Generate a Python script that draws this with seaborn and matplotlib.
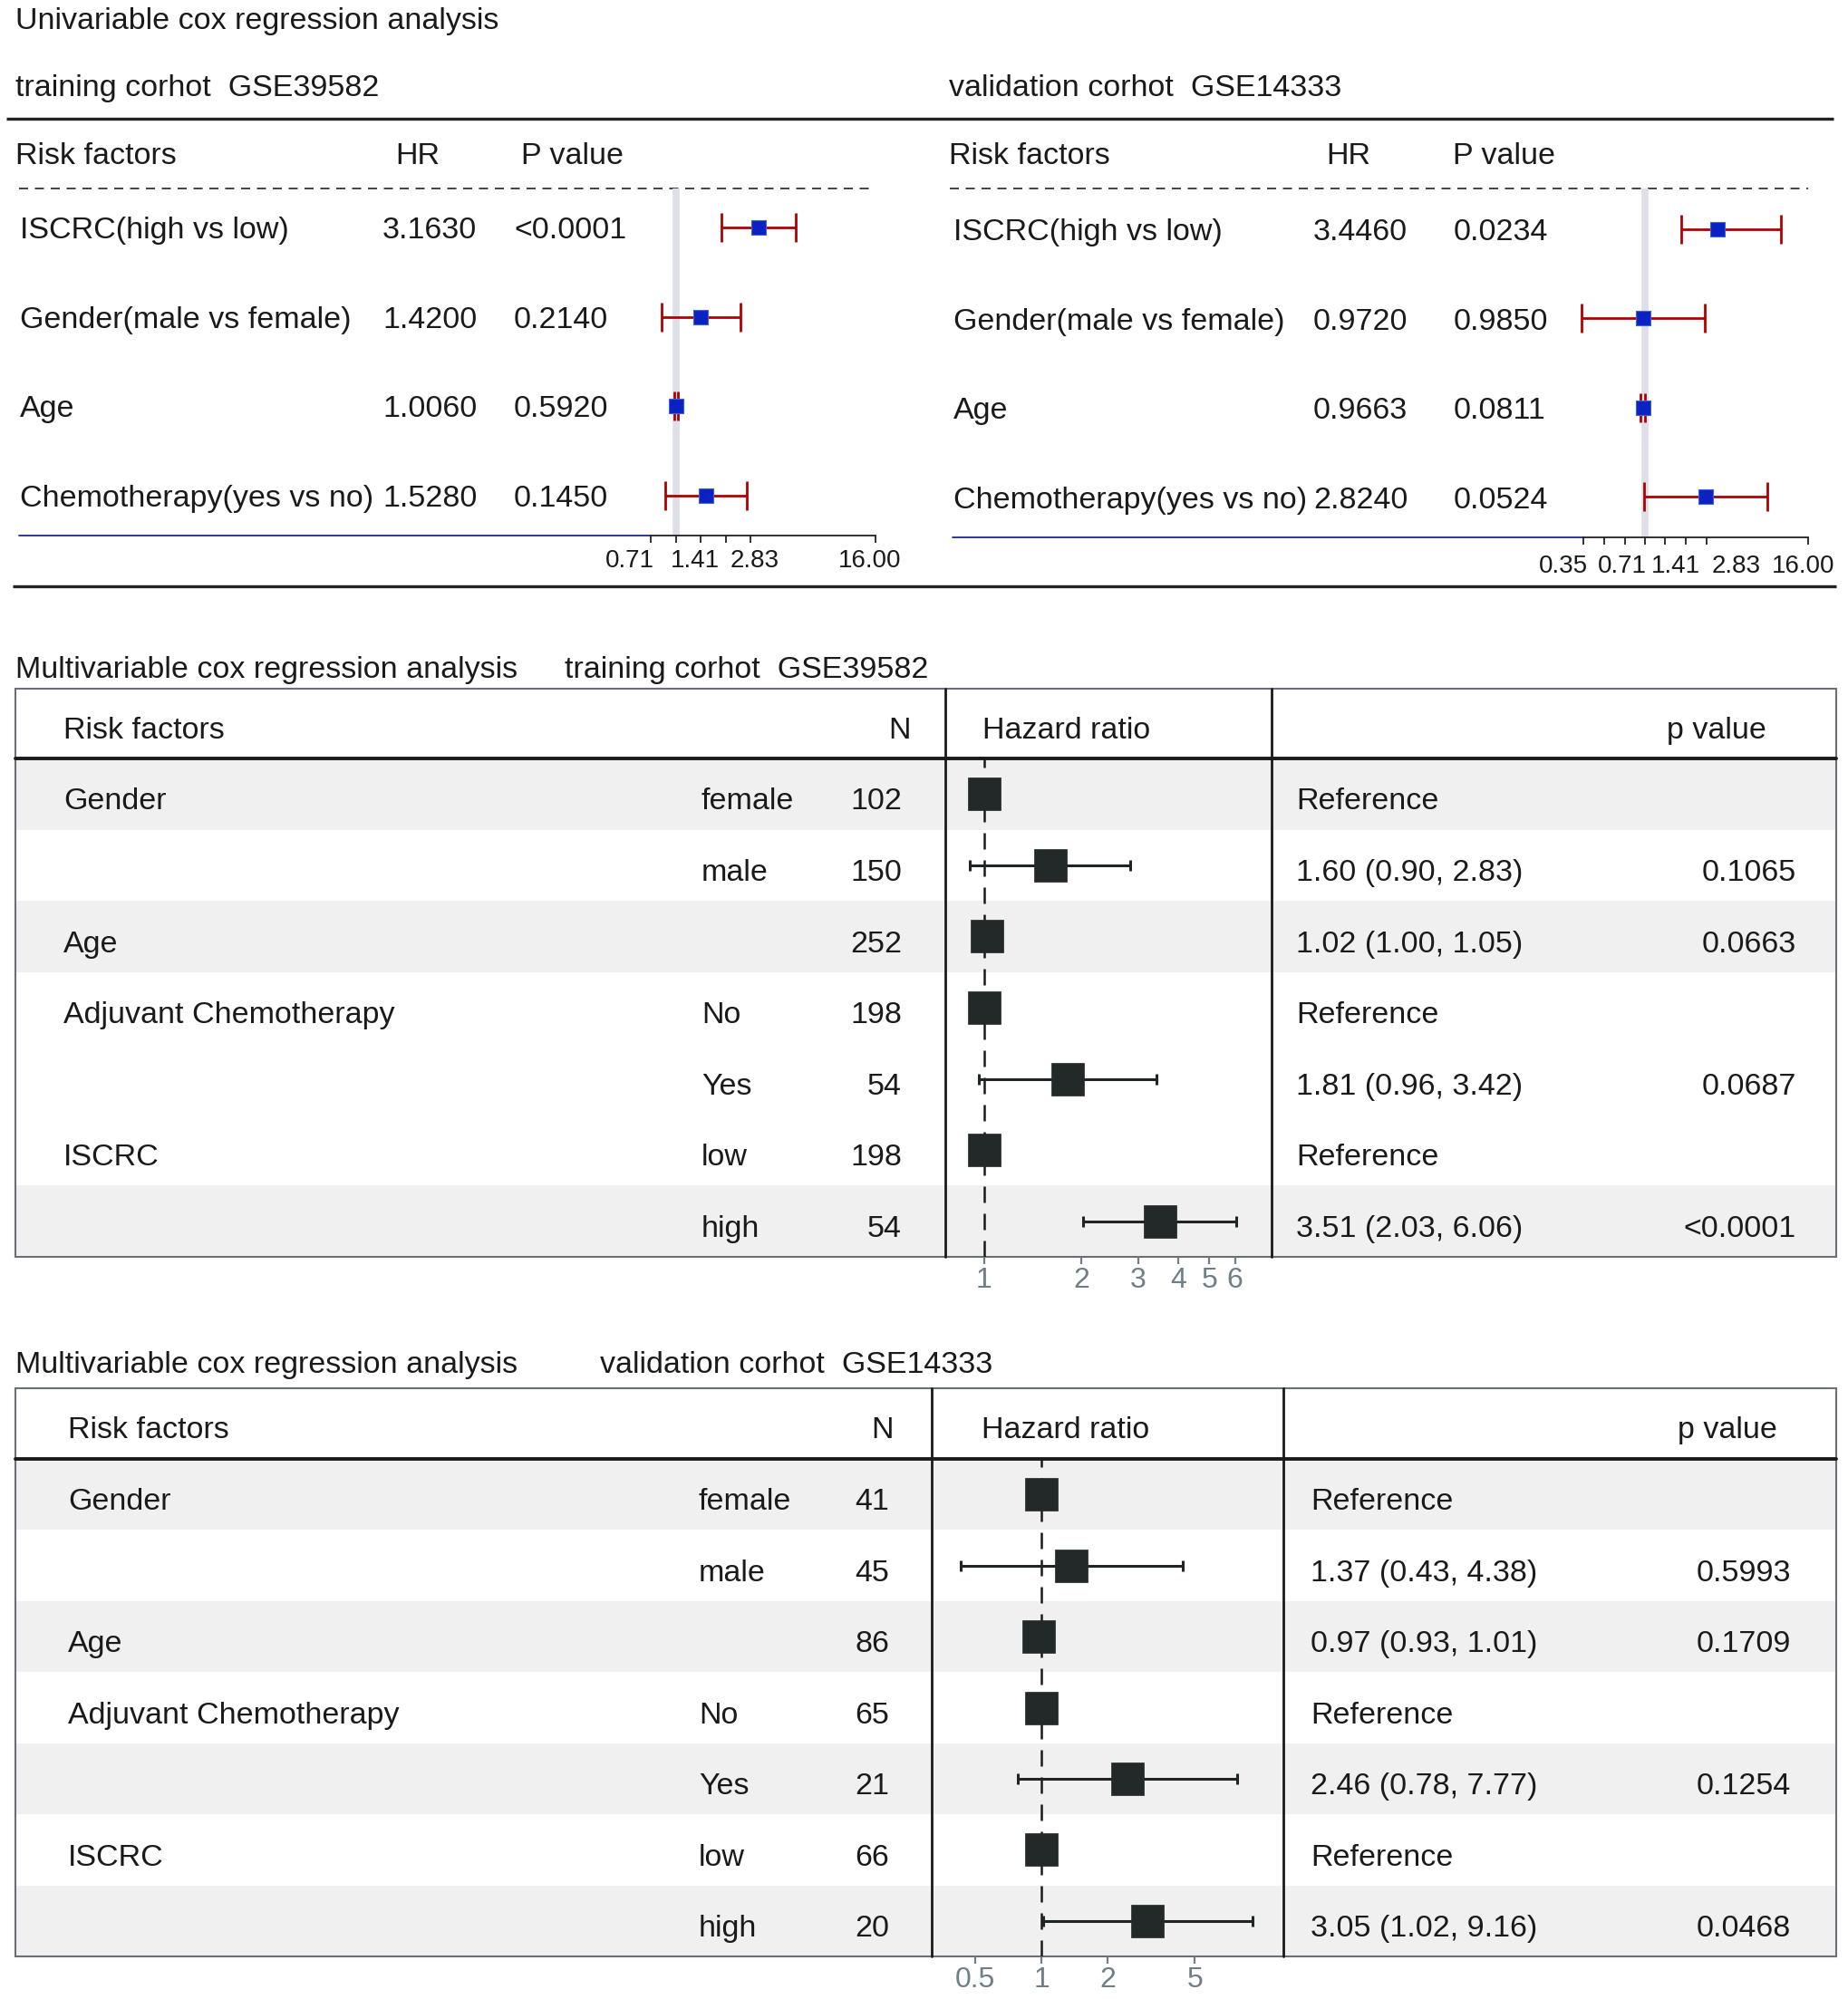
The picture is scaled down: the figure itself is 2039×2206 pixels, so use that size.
import numpy as np
import matplotlib
matplotlib.use("Agg")
import matplotlib.pyplot as plt
import seaborn as sns
from matplotlib.patches import Rectangle

sns.set_style("white")
plt.rcParams['font.family'] = ['Liberation Sans', 'DejaVu Sans']

# ---------------- data ----------------
uni_factors = ["ISCRC(high vs low)", "Gender(male vs female)", "Age", "Chemotherapy(yes vs no)"]

train_hr = [3.163, 1.42, 1.006, 1.528]
train_hr_txt = ["3.1630", "1.4200", "1.0060", "1.5280"]
train_p_txt = ["<0.0001", "0.2140", "0.5920", "0.1450"]
train_lo = [1.88, 0.82, 0.98, 0.87]
train_hi = [5.30, 2.46, 1.03, 2.68]
train_ticks = [0.71, 1, 1.41, 2, 2.83, 16]
train_ticklabels = ["0.71", "", "1.41", "", "2.83", "16.00"]

val_hr = [3.446, 0.972, 0.9663, 2.824]
val_hr_txt = ["3.4460", "0.9720", "0.9663", "2.8240"]
val_p_txt = ["0.0234", "0.9850", "0.0811", "0.0524"]
val_lo = [1.85, 0.34, 0.92, 0.99]
val_hi = [10.1, 2.78, 1.00, 8.0]
val_ticks = [0.35, 0.5, 0.71, 1, 1.41, 2, 2.83, 16]
val_ticklabels = ["0.35", "", "0.71", "", "1.41", "", "2.83", "16.00"]

mv_vars = ["Gender", "", "Age", "Adjuvant Chemotherapy", "", "ISCRC", ""]
mv_levels = ["female", "male", "", "No", "Yes", "low", "high"]

mt_n = [102, 150, 252, 198, 54, 198, 54]
mt_hr = [1, 1.60, 1.02, 1, 1.81, 1, 3.51]
mt_lo = [np.nan, 0.90, 1.00, np.nan, 0.96, np.nan, 2.03]
mt_hi = [np.nan, 2.83, 1.05, np.nan, 3.42, np.nan, 6.06]
mt_p = ["", "0.1065", "0.0663", "", "0.0687", "", "<0.0001"]
mt_ticks = [1, 2, 3, 4, 5, 6]
mt_shade = [1, 0, 1, 0, 0, 0, 1]

mv_n = [41, 45, 86, 65, 21, 66, 20]
mv_hr = [1, 1.37, 0.97, 1, 2.46, 1, 3.05]
mv_lo = [np.nan, 0.43, 0.93, np.nan, 0.78, np.nan, 1.02]
mv_hi = [np.nan, 4.38, 1.01, np.nan, 7.77, np.nan, 9.16]
mv_p = ["", "0.5993", "0.1709", "", "0.1254", "", "0.0468"]
mv_ticks = [0.5, 1, 2, 5]
mv_shade = [1, 0, 1, 0, 1, 0, 1]

# ---------------- figure ----------------
W, H = 2040, 2206
fig = plt.figure(figsize=(W / 100, H / 100), dpi=100)
bg = fig.add_axes([0, 0, 1, 1], zorder=0)
bg.set_xlim(0, W)
bg.set_ylim(H, 0)
bg.axis('off')

FS = 24.5
TXT = '#1a1a1a'


def px_axes(x0, y0, x1, y1):
    ax = fig.add_axes([x0 / W, 1 - y1 / H, (x1 - x0) / W, (y1 - y0) / H], zorder=2)
    ax.set_facecolor('none')
    return ax


def t(x, y, s, fs=FS, **kw):
    """Place text so that its capital-letter centre sits at pixel y."""
    kw.setdefault('color', TXT)
    cap = 0.716 * fs * 100 / 72
    bg.text(x, y + cap / 2, s, fontsize=fs, va='baseline', **kw)


# ---------------- univariable section ----------------
t(17, 20, "Univariable cox regression analysis")
t(17, 94, "training corhot  GSE39582")
t(1047, 94, "validation corhot  GSE14333")
bg.plot([7, 2023], [131, 131], color='#222222', lw=2.4, solid_capstyle='butt')
bg.plot([14, 2026], [647, 647], color='#222222', lw=2.4, solid_capstyle='butt')

row0, rstep = 251, 98.5
dash_y = 208


def uni_panel(xl, x_hr, x_p, hdr_hr, hdr_p, dash_x0, ax_x0, ax_x1, vmin, vmax, axis_y, lab_y,
              hr, lo, hi, hr_txt, p_txt, ticks, ticklabels, lab_dx, blue_x0, dy=0):
    t(xl - 5, 169, "Risk factors")
    t(hdr_hr, 169, "HR")
    t(hdr_p, 169, "P value")
    bg.plot([dash_x0, ax_x1], [dash_y, dash_y], color='#222222', lw=1.2,
            linestyle=(0, (6, 4.5)))
    for i, name in enumerate(uni_factors):
        y = row0 + rstep * i + dy
        t(xl, y, name)
        t(x_hr, y, hr_txt[i])
        t(x_p, y, p_txt[i])
    bg.plot([blue_x0, ax_x0], [axis_y, axis_y], color='#1c2a8a', lw=1.3)

    ax = px_axes(ax_x0, dash_y, ax_x1, axis_y)
    ax.set_xscale('log', base=2)
    ax.set_xlim(vmin, vmax)
    ax.set_ylim((axis_y - row0 - dy) / rstep, (dash_y - row0 - dy) / rstep)
    ax.axvline(1, color='#dedfe8', lw=5.5, zorder=1)
    ys = np.arange(len(hr))
    hr_a, lo_a, hi_a = np.array(hr), np.array(lo), np.array(hi)
    eb = ax.errorbar(hr_a, ys, xerr=[hr_a - lo_a, hi_a - hr_a], fmt='none',
                     ecolor='#b00000', elinewidth=2.0, capsize=11.5, capthick=2.0, zorder=2)
    for art in eb.get_children():
        art.set_clip_on(False)
    sns.scatterplot(x=hr_a, y=ys, marker='s', s=135, color='#0a22c2',
                    edgecolor='#4060e0', linewidth=0.8, ax=ax, legend=False, zorder=3,
                    clip_on=False)
    for sp in ['top', 'left', 'right']:
        ax.spines[sp].set_visible(False)
    ax.spines['bottom'].set_color('#222222')
    ax.spines['bottom'].set_linewidth(1.3)
    ax.set_yticks([])
    ax.set_xticks(ticks)
    ax.set_xticklabels([])
    ax.minorticks_off()
    ax.tick_params(axis='x', direction='out', length=6, width=1.3, color='#222222',
                   bottom=True)
    ax.set_xlabel("")
    ax.set_ylabel("")
    # tick labels spread apart (as in the forest plot) to avoid overlapping
    for v, lab, dx in zip(ticks, ticklabels, lab_dx):
        if lab:
            xp = ax.transData.transform((v, 0))[0]
            t(xp + dx, lab_y, lab, fs=20, ha='center')
    return ax


uni_panel(22, 422, 567, 436, 575, 21, 718, 966, 2 ** -0.5, 16, 591, 616,
          train_hr, train_lo, train_hi, train_hr_txt, train_p_txt,
          train_ticks, train_ticklabels, [-23, 0, -6, 0, 4, -6], 21)
uni_panel(1052, 1449, 1604, 1463, 1603, 1048, 1747, 1995, 2 ** -1.5, 16, 593, 622,
          val_hr, val_lo, val_hi, val_hr_txt, val_p_txt,
          val_ticks, val_ticklabels, [-22, 0, -3, 0, 12, 0, 33, -5], 1051, dy=2)


# ---------------- multivariable tables ----------------
def multi_table(title_y, cohort_x, cohort, top, hdr_bot, bot, vx1, vx2,
                name_x, lvl_x, n_right, nhdr_right, hr_hdr_x, phdr_right,
                est_x, p_right, vmin, vmax, n, hr, lo, hi, pv, ticks, shade):
    left, right = 17, 2026
    t(17, title_y, "Multivariable cox regression analysis")
    t(cohort_x, title_y, cohort)
    rh = (bot - hdr_bot) / len(hr)
    for i, s in enumerate(shade):
        if s:
            bg.add_patch(Rectangle((left, hdr_bot + rh * i), right - left, rh,
                                   facecolor='#f0f0f0', edgecolor='none', zorder=0))
    bg.add_patch(Rectangle((left, top), right - left, bot - top, facecolor='none',
                           edgecolor='#6a7075', lw=1.5, zorder=1))
    bg.plot([left, right], [hdr_bot, hdr_bot], color='#1a1a1a', lw=2.8, zorder=2)
    for vx in (vx1, vx2):
        bg.plot([vx, vx], [top, bot], color='#1a1a1a', lw=2.0, zorder=2)
    hy = (top + hdr_bot) / 2 + 4
    t(name_x, hy, "Risk factors")
    t(nhdr_right, hy, "N", ha='right')
    t(hr_hdr_x, hy, "Hazard ratio")
    t(phdr_right, hy, "p value", ha='right')
    for i in range(len(hr)):
        y = hdr_bot + rh * (i + 0.5) + 5
        if mv_vars[i]:
            t(name_x, y, mv_vars[i])
        if mv_levels[i]:
            t(lvl_x, y, mv_levels[i])
        t(n_right, y, str(n[i]), ha='right')
        if np.isnan(lo[i]):
            est = "Reference"
        else:
            est = f"{hr[i]:.2f} ({lo[i]:.2f}, {hi[i]:.2f})"
        t(est_x, y, est)
        if pv[i]:
            t(p_right, y, pv[i], ha='right')

    ax = px_axes(vx1, hdr_bot, vx2, bot)
    ax.set_xscale('log')
    ax.set_xlim(vmin, vmax)
    ax.set_ylim(len(hr), 0)
    ax.axvline(1, color='#1a1a1a', lw=1.8, linestyle=(0, (7.2, 4.8)), zorder=1)
    hr_a, lo_a, hi_a = np.array(hr, float), np.array(lo, float), np.array(hi, float)
    ys = np.arange(len(hr)) + 0.5
    m = ~np.isnan(lo_a)
    ax.errorbar(hr_a[m], ys[m], xerr=[hr_a[m] - lo_a[m], hi_a[m] - hr_a[m]], fmt='none',
                ecolor='#1f2424', elinewidth=2.2, capsize=4, capthick=2.2, zorder=2)
    sns.scatterplot(x=hr_a, y=ys, marker='s', s=690, color='#232828',
                    edgecolor='#232828', linewidth=0.5, ax=ax, legend=False, zorder=3)
    for sp in ax.spines.values():
        sp.set_visible(False)
    ax.set_yticks([])
    ax.set_xticks(ticks)
    ax.set_xticklabels([f"{v:g}" for v in ticks])
    ax.minorticks_off()
    ax.tick_params(axis='x', direction='out', length=6, width=1.6, color='#6f7f86',
                   labelsize=23, labelcolor='#6f7f86', pad=2, bottom=True)
    ax.set_xlabel("")
    ax.set_ylabel("")


multi_table(736, 623, "training corhot  GSE39582", 760, 837, 1387, 1043, 1403,
            70, 774, 995, 1005, 1084, 1949, 1430, 1982,
            2 ** -0.4019, 2 ** 2.963, mt_n, mt_hr, mt_lo, mt_hi, mt_p, mt_ticks, mt_shade)
multi_table(1503, 662, "validation corhot  GSE14333", 1532, 1610, 2159, 1028, 1416,
            75, 771, 981, 986, 1083, 1961, 1446, 1976,
            2 ** -1.658, 2 ** 3.658, mv_n, mv_hr, mv_lo, mv_hi, mv_p, mv_ticks, mv_shade)

fig.savefig("out.png", dpi=100, facecolor='white')
